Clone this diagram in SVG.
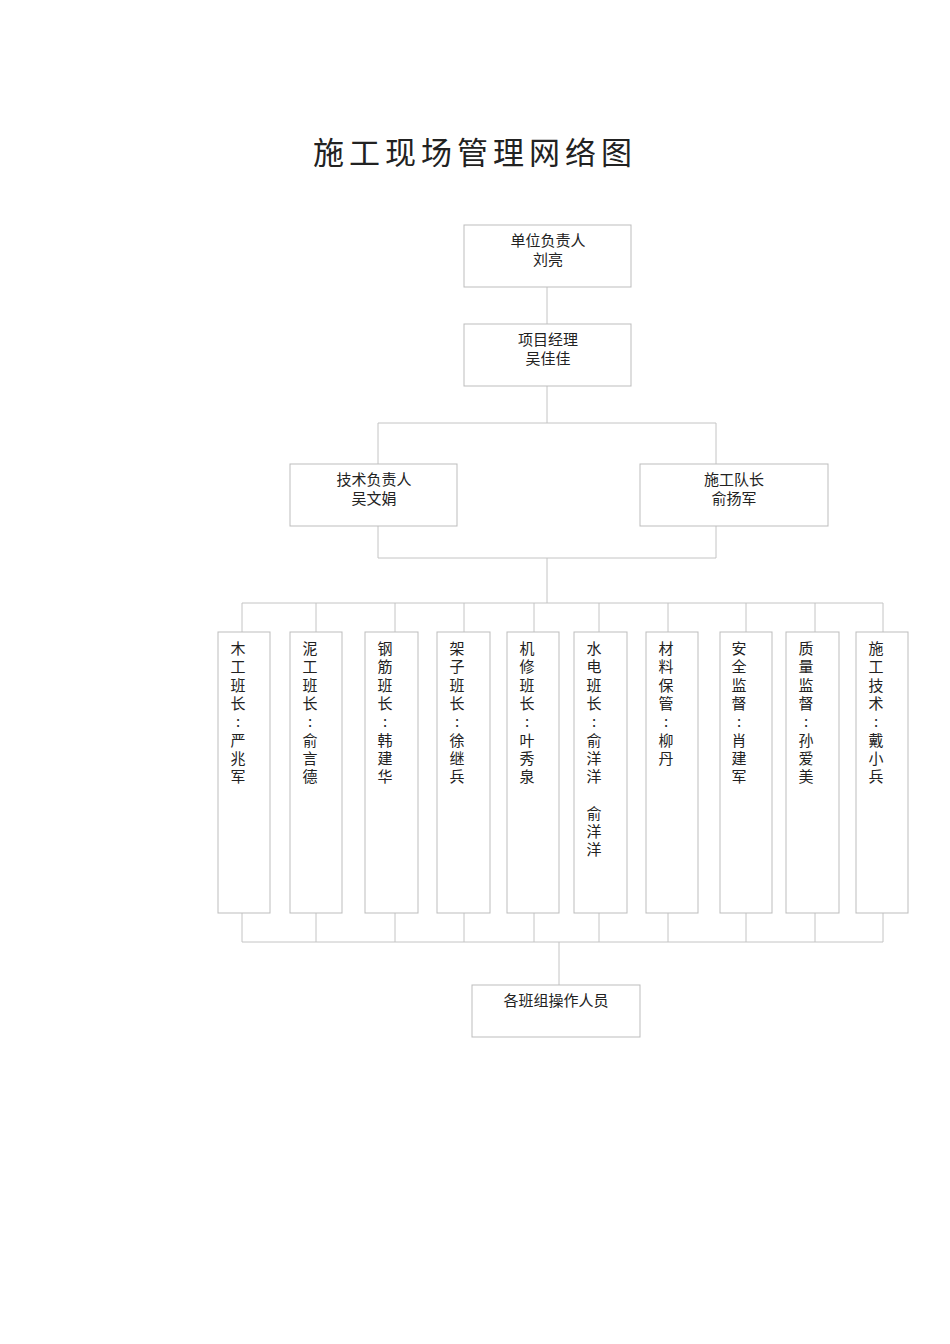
<svg xmlns="http://www.w3.org/2000/svg" width="950" height="1344" viewBox="0 0 950 1344">
<style>
rect{fill:#fff;stroke:#bdbdbd;stroke-width:1}
line,polyline{stroke:#c4c4c4;stroke-width:1;fill:none}
text{font-family:"Noto Sans CJK SC","Liberation Serif",serif;fill:#222;font-size:15px}
.c{text-anchor:middle}
</style>
<rect x="0" y="0" width="950" height="1344" style="stroke:none"/>
<text x="475" y="164" class="c" style="font-size:31px;letter-spacing:5px">施工现场管理网络图</text>
<g id="connectors">
<line x1="547" y1="287" x2="547" y2="324"/>
<line x1="547" y1="386" x2="547" y2="423"/>
<polyline points="378,464 378,423 716,423 716,464"/>
<polyline points="378,526 378,558 716,558 716,526"/>
<line x1="547" y1="558" x2="547" y2="603"/>
<line x1="242" y1="603" x2="883" y2="603"/>
<line x1="242" y1="942" x2="883" y2="942"/>
<line x1="559" y1="942" x2="559" y2="985"/>
<g id="drops">
<line x1="242" y1="603" x2="242" y2="632"/><line x1="242" y1="913" x2="242" y2="942"/>
<line x1="316" y1="603" x2="316" y2="632"/><line x1="316" y1="913" x2="316" y2="942"/>
<line x1="395" y1="603" x2="395" y2="632"/><line x1="395" y1="913" x2="395" y2="942"/>
<line x1="464" y1="603" x2="464" y2="632"/><line x1="464" y1="913" x2="464" y2="942"/>
<line x1="534" y1="603" x2="534" y2="632"/><line x1="534" y1="913" x2="534" y2="942"/>
<line x1="599" y1="603" x2="599" y2="632"/><line x1="599" y1="913" x2="599" y2="942"/>
<line x1="668" y1="603" x2="668" y2="632"/><line x1="668" y1="913" x2="668" y2="942"/>
<line x1="746" y1="603" x2="746" y2="632"/><line x1="746" y1="913" x2="746" y2="942"/>
<line x1="815" y1="603" x2="815" y2="632"/><line x1="815" y1="913" x2="815" y2="942"/>
<line x1="883" y1="603" x2="883" y2="632"/><line x1="883" y1="913" x2="883" y2="942"/>
</g>
</g>
<g id="n1"><rect x="464" y="225" width="167" height="62"/><text x="548" y="246" class="c">单位负责人</text><text x="548" y="265" class="c">刘亮</text></g>
<g id="n2"><rect x="464" y="324" width="167" height="62"/><text x="548" y="345" class="c">项目经理</text><text x="548" y="364" class="c">吴佳佳</text></g>
<g id="n3"><rect x="290" y="464" width="167" height="62"/><text x="374" y="485" class="c">技术负责人</text><text x="374" y="504" class="c">吴文娟</text></g>
<g id="n4"><rect x="640" y="464" width="188" height="62"/><text x="734" y="485" class="c">施工队长</text><text x="734" y="504" class="c">俞扬军</text></g>
<g id="n5"><rect x="218" y="632" width="52" height="281"/><text x="238" y="654" class="c"><tspan x="238">木</tspan><tspan x="238" dy="18.3">工</tspan><tspan x="238" dy="18.3">班</tspan><tspan x="238" dy="18.3">长</tspan><tspan x="238" dy="18.3">:</tspan><tspan x="238" dy="18.3">严</tspan><tspan x="238" dy="18.3">兆</tspan><tspan x="238" dy="18.3">军</tspan></text></g>
<g id="n6"><rect x="290" y="632" width="52" height="281"/><text x="310" y="654" class="c"><tspan x="310">泥</tspan><tspan x="310" dy="18.3">工</tspan><tspan x="310" dy="18.3">班</tspan><tspan x="310" dy="18.3">长</tspan><tspan x="310" dy="18.3">:</tspan><tspan x="310" dy="18.3">俞</tspan><tspan x="310" dy="18.3">言</tspan><tspan x="310" dy="18.3">德</tspan></text></g>
<g id="n7"><rect x="365" y="632" width="53" height="281"/><text x="385" y="654" class="c"><tspan x="385">钢</tspan><tspan x="385" dy="18.3">筋</tspan><tspan x="385" dy="18.3">班</tspan><tspan x="385" dy="18.3">长</tspan><tspan x="385" dy="18.3">:</tspan><tspan x="385" dy="18.3">韩</tspan><tspan x="385" dy="18.3">建</tspan><tspan x="385" dy="18.3">华</tspan></text></g>
<g id="n8"><rect x="437" y="632" width="53" height="281"/><text x="457" y="654" class="c"><tspan x="457">架</tspan><tspan x="457" dy="18.3">子</tspan><tspan x="457" dy="18.3">班</tspan><tspan x="457" dy="18.3">长</tspan><tspan x="457" dy="18.3">:</tspan><tspan x="457" dy="18.3">徐</tspan><tspan x="457" dy="18.3">继</tspan><tspan x="457" dy="18.3">兵</tspan></text></g>
<g id="n9"><rect x="507" y="632" width="52" height="281"/><text x="527" y="654" class="c"><tspan x="527">机</tspan><tspan x="527" dy="18.3">修</tspan><tspan x="527" dy="18.3">班</tspan><tspan x="527" dy="18.3">长</tspan><tspan x="527" dy="18.3">:</tspan><tspan x="527" dy="18.3">叶</tspan><tspan x="527" dy="18.3">秀</tspan><tspan x="527" dy="18.3">泉</tspan></text></g>
<g id="n10"><rect x="574" y="632" width="53" height="281"/><text x="594" y="654" class="c"><tspan x="594">水</tspan><tspan x="594" dy="18.3">电</tspan><tspan x="594" dy="18.3">班</tspan><tspan x="594" dy="18.3">长</tspan><tspan x="594" dy="18.3">:</tspan><tspan x="594" dy="18.3">俞</tspan><tspan x="594" dy="18.3">洋</tspan><tspan x="594" dy="18.3">洋</tspan><tspan x="594" dy="36.6">俞</tspan><tspan x="594" dy="18.3">洋</tspan><tspan x="594" dy="18.3">洋</tspan></text></g>
<g id="n11"><rect x="646" y="632" width="52" height="281"/><text x="666" y="654" class="c"><tspan x="666">材</tspan><tspan x="666" dy="18.3">料</tspan><tspan x="666" dy="18.3">保</tspan><tspan x="666" dy="18.3">管</tspan><tspan x="666" dy="18.3">:</tspan><tspan x="666" dy="18.3">柳</tspan><tspan x="666" dy="18.3">丹</tspan></text></g>
<g id="n12"><rect x="720" y="632" width="52" height="281"/><text x="739" y="654" class="c"><tspan x="739">安</tspan><tspan x="739" dy="18.3">全</tspan><tspan x="739" dy="18.3">监</tspan><tspan x="739" dy="18.3">督</tspan><tspan x="739" dy="18.3">:</tspan><tspan x="739" dy="18.3">肖</tspan><tspan x="739" dy="18.3">建</tspan><tspan x="739" dy="18.3">军</tspan></text></g>
<g id="n13"><rect x="786" y="632" width="53" height="281"/><text x="806" y="654" class="c"><tspan x="806">质</tspan><tspan x="806" dy="18.3">量</tspan><tspan x="806" dy="18.3">监</tspan><tspan x="806" dy="18.3">督</tspan><tspan x="806" dy="18.3">:</tspan><tspan x="806" dy="18.3">孙</tspan><tspan x="806" dy="18.3">爱</tspan><tspan x="806" dy="18.3">美</tspan></text></g>
<g id="n14"><rect x="856" y="632" width="52" height="281"/><text x="876" y="654" class="c"><tspan x="876">施</tspan><tspan x="876" dy="18.3">工</tspan><tspan x="876" dy="18.3">技</tspan><tspan x="876" dy="18.3">术</tspan><tspan x="876" dy="18.3">:</tspan><tspan x="876" dy="18.3">戴</tspan><tspan x="876" dy="18.3">小</tspan><tspan x="876" dy="18.3">兵</tspan></text></g>
<g id="n15"><rect x="472" y="985" width="168" height="52"/><text x="556" y="1006" class="c">各班组操作人员</text></g>
</svg>
